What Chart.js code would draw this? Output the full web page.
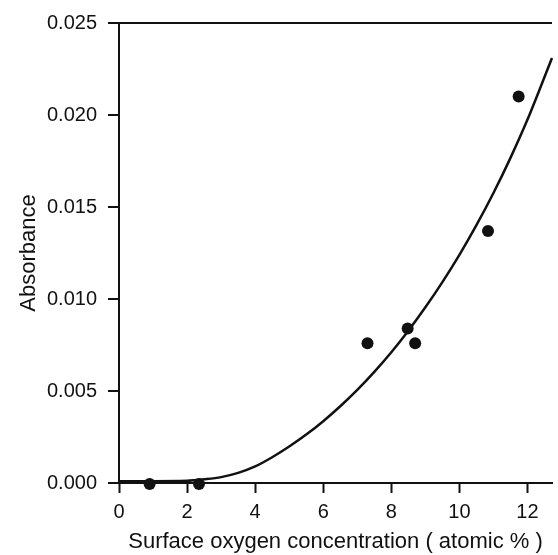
<!DOCTYPE html>
<html>
<head>
<meta charset="utf-8">
<script src="https://cdn.jsdelivr.net/npm/chart.js@4/dist/chart.umd.min.js"></script>
<style>
  html, body { margin: 0; padding: 0; background: #fff; }
  #wrap { width: 558px; height: 555px; }
</style>
</head>
<body>
<div id="wrap"><canvas id="c" width="558" height="555"></canvas></div>
<script>
// Measured points
const pointX = [0.9, 2.35, 7.3, 8.48, 8.7, 10.84, 11.74];
const pointY = [-0.00005, -0.00005, 0.0076, 0.0084, 0.0076, 0.0137, 0.0210];

// Fitted curve
const curveX = [0, 1, 2, 2.5, 3, 3.5, 4, 4.5, 5, 5.5, 6, 6.5, 7, 7.5, 8, 8.5, 9, 9.5, 10, 10.5, 11, 11.5, 12, 12.72];
const curveY = [0.0001, 0.0001, 0.00012, 0.0002, 0.00032, 0.00055, 0.0009, 0.0014, 0.00198, 0.00263, 0.00336, 0.00417, 0.00506, 0.00604, 0.00711, 0.00828, 0.00955, 0.01092, 0.0124, 0.01401, 0.01576, 0.01767, 0.01975, 0.0231];

// Axis ticks
const xTicks = [0, 2, 4, 6, 8, 10, 12];
const yTicks = [0, 0.005, 0.010, 0.015, 0.020, 0.025];
const xMin = 0, xMax = 12.72;
const yMin = 0, yMax = 0.025;

const xTitle = 'Surface oxygen concentration ( atomic % )';
const yTitle = 'Absorbance';

const INK = '#111';
const FONT = '"Liberation Sans", Arial, Helvetica, sans-serif';

const points = pointX.map((x, i) => ({ x, y: pointY[i] }));
const curve = curveX.map((x, i) => ({ x, y: curveY[i] }));

new Chart(document.getElementById('c'), {
  type: 'scatter',
  data: {
    datasets: [
      {
        data: curve,
        showLine: true,
        borderColor: INK,
        borderWidth: 2.5,
        pointRadius: 0,
        cubicInterpolationMode: 'monotone',
        fill: false,
        clip: false
      },
      {
        data: points,
        showLine: false,
        pointRadius: 6,
        pointBackgroundColor: INK,
        pointBorderColor: INK,
        pointBorderWidth: 0,
        clip: false
      }
    ]
  },
  options: {
    responsive: false,
    animation: false,
    layout: { padding: { top: 22, right: 0, bottom: 0, left: 0 } },
    plugins: { legend: { display: false }, tooltip: { enabled: false } },
    scales: {
      x: {
        type: 'linear',
        min: xMin,
        max: xMax,
        afterBuildTicks: s => { s.ticks = xTicks.map(v => ({ value: v })); },
        afterFit: s => { s.height = 72; },
        border: { display: true, color: INK, width: 2 },
        grid: { drawOnChartArea: false, drawTicks: true, tickLength: 10, tickColor: INK, tickWidth: 2, color: INK },
        ticks: { color: INK, font: { family: FONT, size: 20 }, padding: 7, maxRotation: 0, callback: v => String(v) },
        title: { display: true, text: xTitle, color: INK, font: { family: FONT, size: 22 }, padding: { top: 0, bottom: 0 } }
      },
      y: {
        type: 'linear',
        min: yMin,
        max: yMax,
        afterBuildTicks: s => { s.ticks = yTicks.map(v => ({ value: v })); },
        afterFit: s => { s.width = 119; },
        border: { display: true, color: INK, width: 2 },
        grid: {
          drawOnChartArea: true,
          drawTicks: true,
          tickLength: 11,
          tickColor: INK,
          tickWidth: 2,
          lineWidth: 2,
          color: ctx => (ctx.tick && ctx.tick.value === yMax) ? INK : 'rgba(0,0,0,0)'
        },
        ticks: { color: INK, font: { family: FONT, size: 20 }, padding: 11, callback: v => v.toFixed(3) },
        title: { display: true, text: yTitle, color: INK, font: { family: FONT, size: 22 }, padding: { top: 16, bottom: 0 } }
      }
    }
  }
});
</script>
</body>
</html>
